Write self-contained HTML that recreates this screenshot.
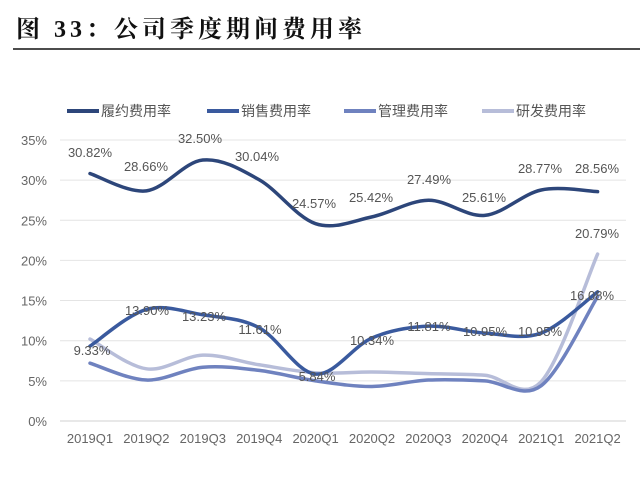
<!DOCTYPE html>
<html><head><meta charset="utf-8"><style>
body{margin:0;width:640px;height:495px;background:#fff;overflow:hidden;font-family:"Liberation Sans","Noto Sans CJK SC",sans-serif}
</style></head><body>
<svg id="s" width="640" height="495" xmlns="http://www.w3.org/2000/svg">
<text x="16" y="37" font-family="Liberation Serif, Noto Serif CJK SC, serif" font-weight="bold" font-size="24" letter-spacing="4" fill="#111">图 33：公司季度期间费用率</text>
<line x1="13" y1="49" x2="640" y2="49" stroke="#111" stroke-width="1.5"/>
</svg>
<script>
var s=document.getElementById('s'),NS='http://www.w3.org/2000/svg';
function el(t,a,txt){var e=document.createElementNS(NS,t);for(var k in a)e.setAttribute(k,a[k]);if(txt!=null)e.textContent=txt;s.appendChild(e);return e;}
var y0=421,py=8.03;function Y(v){return y0-v*py}function X(i){return 90+i*56.4}
for(var g=0;g<=35;g+=5){el('line',{x1:60,x2:626,y1:Y(g),y2:Y(g),stroke:g?'#e4e4e4':'#d0d0d0','stroke-width':1});
el('text',{x:47,y:Y(g)+5,'text-anchor':'end','font-size':13,fill:'#666'},g+'%');}
var cats=['2019Q1','2019Q2','2019Q3','2019Q4','2020Q1','2020Q2','2020Q3','2020Q4','2021Q1','2021Q2'];
cats.forEach(function(c,i){el('text',{x:X(i),y:443,'text-anchor':'middle','font-size':13,fill:'#666'},c)});
function path(d){var p=d.map(function(v,i){return[X(i),Y(v)]});var str='M'+p[0][0]+','+p[0][1];
for(var i=0;i<p.length-1;i++){var a=p[i-1]||p[i],b=p[i],c=p[i+1],e=p[i+2]||c,t=6;
str+=' C'+(b[0]+(c[0]-a[0])/t)+','+(b[1]+(c[1]-a[1])/t)+' '+(c[0]-(e[0]-b[0])/t)+','+(c[1]-(e[1]-b[1])/t)+' '+c[0]+','+c[1];}return str;}
var S=[
{n:'研发费用率',c:'#b7bdd9',d:[10.2,6.5,8.2,7.0,6.0,6.1,5.9,5.7,4.9,20.79]},
{n:'管理费用率',c:'#6f82bf',d:[7.2,5.1,6.7,6.3,5.0,4.3,5.1,5.0,4.4,15.5]},
{n:'销售费用率',c:'#3a5a9e',d:[9.33,13.9,13.23,11.61,5.84,10.34,11.81,10.95,10.95,16.08]},
{n:'履约费用率',c:'#2d467a',d:[30.82,28.66,32.5,30.04,24.57,25.42,27.49,25.61,28.77,28.56]}];
S.forEach(function(o){el('path',{d:path(o.d),fill:'none',stroke:o.c,'stroke-width':3.5,'stroke-linecap':'round'})});
var L=[['履约费用率','#2d467a',67],['销售费用率','#3a5a9e',207],['管理费用率','#6f82bf',344],['研发费用率','#b7bdd9',482]];
L.forEach(function(l){el('line',{x1:l[2],x2:l[2]+32,y1:111,y2:111,stroke:l[1],'stroke-width':4});el('text',{x:l[2]+34,y:116,'font-size':14,fill:'#555'},l[0])});
var lab=[[30.82,90,157],[28.66,146,171],[32.5,200,143],[30.04,257,161],[24.57,314,208],[25.42,371,202],[27.49,429,184],[25.61,484,202],[28.77,540,173],[28.56,597,173],
[9.33,92,355],[13.9,147,315],[13.23,204,321],[11.61,260,334],[5.84,317,381],[10.34,372,345],[11.81,429,331],[10.95,485,336],[10.95,540,336],[16.08,592,300],[20.79,597,238]];
lab.forEach(function(l){el('text',{x:l[1],y:l[2],'text-anchor':'middle','font-size':13,fill:'#555'},l[0].toFixed(2)+'%')});
</script>
</body></html>
